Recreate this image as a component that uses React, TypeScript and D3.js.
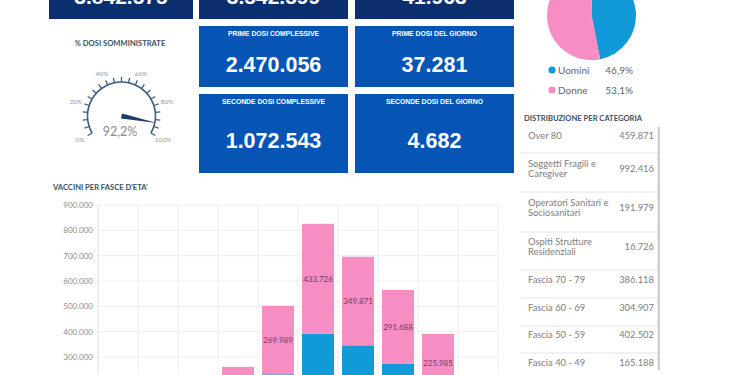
import React from "react";
import * as d3 from "d3";

// ---------- data ----------
const topValues = ["3.842.575", "3.542.599", "41.963"];
const kpiTitles = ["PRIME DOSI COMPLESSIVE", "PRIME DOSI DEL GIORNO", "SECONDE DOSI COMPLESSIVE", "SECONDE DOSI DEL GIORNO"];
const kpiValues = ["2.470.056", "37.281", "1.072.543", "4.682"];
const gaugeValue = 92.2;
const gaugeTicks = [0, 20, 40, 60, 80, 100];
const sexLabels = ["Uomini", "Donne"];
const sexValues = [46.9, 53.1];
const catLabels = [
  ["Over 80"],
  ["Soggetti Fragili e", "Caregiver"],
  ["Operatori Sanitari e", "Sociosanitari"],
  ["Ospiti Strutture", "Residenziali"],
  ["Fascia 70 - 79"],
  ["Fascia 60 - 69"],
  ["Fascia 50 - 59"],
  ["Fascia 40 - 49"],
];
const catValues = ["459.871", "992.416", "191.979", "16.726", "386.118", "304.907", "402.502", "165.188"];
const ageBands = ["12-15", "16-19", "20-29", "30-39", "40-49", "50-59", "60-69", "70-79", "80-89", "90+"];
const blueValues = [2000, 35000, 90000, 121000, 232000, 392000, 346000, 273000, 165000, 40000];
const pinkValues = [3000, 40000, 110000, 140000, 269989, 433726, 349871, 291688, 225985, 90000];
const yTicks = [300000, 400000, 500000, 600000, 700000, 800000, 900000];

const NAVY = "#0b2f6e";
const BLUE_BOX = "#0654b4";
const BLUE = "#1199d8";
const PINK = "#f68dc3";
const fmt = (v: number) => d3.format(",")(v).replace(/,/g, ".");

export default function App() {
  const x = d3.scaleBand().domain(ageBands).range([98, 498]).paddingInner(0.2).paddingOuter(0.1);
  const y = d3.scaleLinear().domain([0, 900000]).range([433, 205]);
  const step = x.step();

  const gc = { x: 121.5, y: 116 };
  const gr = 34;
  const ang = d3.scaleLinear().domain([0, 100]).range([-120, 120]);
  const rad = (a: number) => (a * Math.PI) / 180;
  const arcPath = d3.arc()({ innerRadius: gr, outerRadius: gr, startAngle: rad(-120), endAngle: rad(120) } as any) as string;
  const tickVals = d3.range(0, 101, 5);
  const na = rad(ang(gaugeValue));
  const tip = { x: gc.x + Math.sin(na) * 36, y: gc.y - Math.cos(na) * 36 };
  const perp = { x: Math.cos(na) * 2.5, y: Math.sin(na) * 2.5 };

  const pie = d3.pie<number>().sort(null)(sexValues);
  const pieArc = d3.arc<d3.PieArcDatum<number>>().innerRadius(0).outerRadius(44.5);

  const font = "Lato, 'Open Sans', sans-serif";
  const boldFont = "'Liberation Sans', Arial, sans-serif";

  const kpiBoxes = [
    { x: 199, y: 26, w: 149, h: 61 },
    { x: 355, y: 26, w: 159, h: 61 },
    { x: 199, y: 94, w: 149, h: 79 },
    { x: 355, y: 94, w: 159, h: 79 },
  ];
  const topBoxes = [
    { x: 49, w: 144 },
    { x: 199, w: 149 },
    { x: 355, w: 159 },
  ];

  const rowSeps = [153, 192, 232, 270, 298, 326, 353];
  const rowBase = [139, 167, 206, 244.5, 283, 311, 338, 366];

  return (
    <svg width={750} height={375} style={{ position: "absolute", left: 0, top: 0, background: "#fff" }}>
      {topBoxes.map((b, i) => (
        <g key={i}>
          <rect x={b.x} y={0} width={b.w} height={19} fill={NAVY} />
          <text x={b.x + b.w / 2} y={3.5} textAnchor="middle" fill="#fff" fontFamily={boldFont} fontWeight="bold" fontSize={21}>
            {topValues[i]}
          </text>
        </g>
      ))}

      {kpiBoxes.map((b, i) => (
        <g key={i}>
          <rect x={b.x} y={b.y} width={b.w} height={b.h} fill={BLUE_BOX} />
          <text x={b.x + b.w / 2} y={b.y + 10} textAnchor="middle" fill="#fff" fontFamily={boldFont} fontWeight="bold" fontSize={6.8}>
            {kpiTitles[i]}
          </text>
          <text x={b.x + b.w / 2} y={i < 2 ? 72 : 148} textAnchor="middle" fill="#fff" fontFamily={boldFont} fontWeight="bold" fontSize={21.5}>
            {kpiValues[i]}
          </text>
        </g>
      ))}

      <text x={120} y={45.5} textAnchor="middle" fill="#3d4f63" fontFamily={font} fontWeight="bold" fontSize={7.6}>
        % DOSI SOMMINISTRATE
      </text>
      <path d={arcPath} transform={`translate(${gc.x},${gc.y})`} fill="none" stroke="#3f5d80" strokeWidth={1.6} />
      {tickVals.map((t) => {
        const a = rad(ang(t));
        const s = Math.sin(a), c = -Math.cos(a);
        return (
          <line key={t} x1={gc.x + s * gr} y1={gc.y + c * gr} x2={gc.x + s * (gr + 5)} y2={gc.y + c * (gr + 5)} stroke="#3f5d80" strokeWidth={1.3} />
        );
      })}
      {gaugeTicks.map((t) => {
        const a = rad(ang(t));
        return (
          <text key={t} x={gc.x + Math.sin(a) * 48} y={gc.y - Math.cos(a) * 46} textAnchor="middle" dominantBaseline="central" fill="#999" fontFamily={font} fontSize={6.5}>
            {t}%
          </text>
        );
      })}
      <path d={`M${gc.x + perp.x},${gc.y + perp.y} L${tip.x},${tip.y} L${gc.x - perp.x},${gc.y - perp.y} Z`} fill="#1d3c66" />
      <text x={120} y={136} textAnchor="middle" fill="#8a8a8a" fontFamily={font} fontSize={12.5}>
        {String(gaugeValue).replace(".", ",")}%
      </text>

      <g transform="translate(591.5,15.5)">
        {pie.map((p, i) => (
          <path key={i} d={pieArc(p) as string} fill={i === 0 ? BLUE : PINK} />
        ))}
      </g>
      {sexLabels.map((l, i) => (
        <g key={l}>
          <circle cx={552} cy={70 + i * 20} r={3.6} fill={i === 0 ? BLUE : PINK} />
          <text x={558} y={73.5 + i * 20} fill="#666" fontFamily={font} fontSize={10}>{l}</text>
          <text x={633} y={73.5 + i * 20} textAnchor="end" fill="#666" fontFamily={font} fontSize={10}>
            {String(sexValues[i]).replace(".", ",")}%
          </text>
        </g>
      ))}

      <text x={524} y={121} fill="#3d4f63" fontFamily={font} fontWeight="bold" fontSize={7.6}>
        DISTRIBUZIONE PER CATEGORIA
      </text>
      <rect x={657.5} y={127} width={2.5} height={243} fill="#cfcfcf" />
      {rowSeps.map((s) => (
        <line key={s} x1={520} x2={657} y1={s} y2={s} stroke="#e3e3e3" strokeWidth={1} />
      ))}
      {catLabels.map((lines, i) => {
        const two = lines.length > 1;
        const base = rowBase[i];
        return (
          <g key={i}>
            {lines.map((ln, j) => (
              <text key={j} x={528} y={base + j * 10} fill="#808080" fontFamily={font} fontSize={9.4}>{ln}</text>
            ))}
            <text x={654} y={two ? base + 5 : base} textAnchor="end" fill="#808080" fontFamily={font} fontSize={9.4}>{catValues[i]}</text>
          </g>
        );
      })}

      <text x={53} y={189.5} fill="#3d4f63" fontFamily={font} fontWeight="bold" fontSize={7.6}>
        VACCINI PER FASCE D'ETA'
      </text>
      {yTicks.map((t) => (
        <g key={t}>
          <line x1={98} x2={498} y1={y(t)} y2={y(t)} stroke="#eeeeee" />
          <text x={93} y={y(t)} textAnchor="end" dominantBaseline="central" fill="#8c8c8c" fontFamily={font} fontSize={8}>
            {fmt(t)}
          </text>
        </g>
      ))}
      {ageBands.map((b) => (
        <line key={b} x1={(x(b) as number) - step * 0.1 + step} x2={(x(b) as number) - step * 0.1 + step} y1={205} y2={375} stroke="#eeeeee" />
      ))}
      <line x1={98} x2={98} y1={205} y2={375} stroke="#dddddd" />
      {ageBands.map((b, i) => {
        const bx = x(b) as number;
        const bw = x.bandwidth();
        const y0 = y(0), y1 = y(blueValues[i]), y2 = y(blueValues[i] + pinkValues[i]);
        return (
          <g key={b}>
            <rect x={bx} y={y1} width={bw} height={y0 - y1} fill={BLUE} />
            <rect x={bx} y={y2} width={bw} height={y1 - y2} fill={PINK} />
            <text x={bx + bw / 2} y={(y1 + y2) / 2} textAnchor="middle" dominantBaseline="central" fill="#6e3d5e" fontFamily={font} fontSize={8}>
              {fmt(pinkValues[i])}
            </text>
          </g>
        );
      })}
    </svg>
  );
}
